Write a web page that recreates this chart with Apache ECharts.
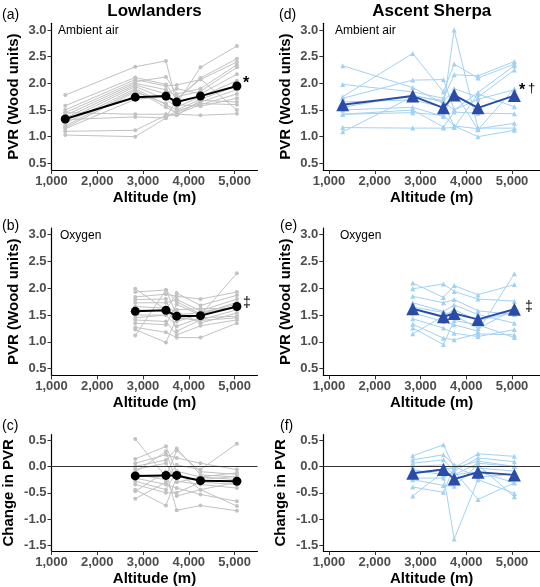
<!DOCTYPE html>
<html><head><meta charset="utf-8">
<script src="https://cdn.jsdelivr.net/npm/echarts@6/dist/echarts.min.js"></script>
<style>html,body{margin:0;padding:0;background:#fff}#c{width:540px;height:587px}</style>
</head><body><div id="c"></div>
<script>
// ---------- DATA ----------
const altitudeAmbient = [1300, 2830, 3500, 3735, 4255, 5050];
const altitudeOxygen  = [2830, 3500, 3735, 4255, 5050];
const xTickValues = [1000, 2000, 3000, 4000, 5000];
const pvrTickValues = [0.5, 1.0, 1.5, 2.0, 2.5, 3.0];
const changeTickValues = [-1.5, -1.0, -0.5, 0.0, 0.5];

// (a) Lowlanders, ambient air
const lowAmbientMean = [1.33, 1.74, 1.76, 1.65, 1.76, 1.95];
const lowAmbientSubjects = [
  [1.78, 2.31, 2.42, 1.62, 2.30, 2.70],
  [1.58, 2.11, 1.98, 1.70, 2.10, 2.46],
  [1.50, 2.07, 1.95, 1.97, 2.07, 2.40],
  [1.45, 2.03, 2.12, 1.80, 1.90, 2.35],
  [1.40, 2.00, 1.88, 1.75, 1.85, 2.30],
  [1.35, 1.97, 1.80, 1.90, 1.80, 2.17],
  [1.30, 1.94, 1.70, 1.55, 1.75, 2.05],
  [1.25, 1.90, 1.60, 1.50, 1.70, 1.95],
  [1.20, 1.87, 1.55, 1.45, 1.65, 1.88],
  [1.17, 1.84, 1.62, 1.42, 1.60, 1.80],
  [1.15, 1.70, 1.75, 1.60, 1.57, 1.72],
  [1.45, 1.42, 1.42, 1.42, 1.40, 1.43],
  [1.32, 1.37, 1.35, 1.48, 1.62, 1.60],
  [1.10, 1.12, 1.40, 1.40, 1.68, 1.65],
  [1.03, 1.00, 1.35, 1.70, 2.08, 1.50]
];
// (b) Lowlanders, oxygen
const lowOxygenMean = [1.57, 1.59, 1.48, 1.49, 1.66];
const lowOxygenSubjects = [
  [1.99, 1.60, 1.91, 1.68, 1.87],
  [1.93, 1.97, 1.75, 1.52, 1.74],
  [1.84, 1.89, 1.85, 1.80, 1.93],
  [1.79, 1.80, 1.20, 1.41, 1.60],
  [1.73, 1.73, 1.79, 1.58, 1.80],
  [1.66, 1.63, 1.57, 1.35, 1.54],
  [1.60, 1.57, 1.38, 1.52, 1.66],
  [1.50, 1.50, 1.29, 1.45, 1.48],
  [1.41, 1.38, 1.13, 1.30, 1.41],
  [1.35, 1.32, 1.70, 1.50, 2.28],
  [1.27, 1.18, 1.08, 1.08, 1.35],
  [1.23, 0.99, 1.45, 1.40, 1.45],
  [1.12, 1.97, 1.50, 1.55, 1.70],
  [1.45, 1.50, 1.60, 1.62, 1.62]
];
// (c) Lowlanders, change in PVR
const lowChangeMean = [-0.18, -0.17, -0.17, -0.27, -0.28];
const lowChangeSubjects = [
  [0.52, -0.20, 0.30, -0.10, -0.15],
  [0.14, 0.38, -0.10, -0.44, -0.75],
  [0.06, 0.22, 0.16, 0.06, -0.06],
  [0.00, 0.12, 0.34, -0.16, -0.20],
  [-0.06, 0.06, -0.28, -0.34, -0.41],
  [-0.15, -0.25, 0.03, -0.06, 0.43],
  [-0.22, -0.34, -0.41, -0.53, -0.66],
  [-0.28, -0.44, -0.09, -0.20, -0.12],
  [-0.34, -0.50, -0.50, -0.30, -0.34],
  [-0.44, -0.74, -0.20, -0.25, -0.19],
  [-0.47, -0.10, -0.83, -0.74, -0.84],
  [-0.61, -0.30, -0.56, -0.44, -0.30],
  [-0.10, 0.28, -0.30, -0.20, -0.25]
];
// (d) Ascent Sherpa, ambient air
const sherpaAmbientMean = [1.60, 1.76, 1.54, 1.78, 1.54, 1.77];
const sherpaAmbientSubjects = [
  [2.33, 1.92, 1.62, 1.20, 1.15, 1.25],
  [1.98, 1.84, 1.72, 2.16, 2.14, 2.41],
  [1.75, 2.56, 1.84, 2.36, 2.10, 2.36],
  [1.72, 2.06, 2.07, 1.50, 1.83, 2.33],
  [1.65, 1.69, 1.55, 3.00, 1.16, 1.16],
  [1.50, 1.55, 1.38, 1.90, 1.74, 2.25],
  [1.42, 1.50, 1.18, 1.46, 1.44, 1.43],
  [1.42, 1.45, 1.40, 1.20, 1.00, 1.12],
  [1.17, 1.16, 1.16, 1.17, 1.80, 1.56],
  [1.09, 1.75, 1.68, 1.85, 1.13, 1.90],
  [1.55, 1.78, 1.65, 1.50, 1.70, 1.88]
];
// (e) Ascent Sherpa, oxygen
const sherpaOxygenMean = [1.62, 1.47, 1.53, 1.42, 1.61];
const sherpaOxygenSubjects = [
  [2.10, 1.83, 2.05, 1.88, 2.07],
  [1.99, 2.08, 1.94, 1.80, 1.76],
  [1.85, 1.73, 1.79, 1.58, 1.51],
  [1.73, 1.57, 1.69, 1.51, 1.35],
  [1.54, 1.38, 1.32, 1.20, 2.27],
  [1.43, 1.26, 1.16, 1.10, 1.23],
  [1.33, 1.07, 1.04, 1.15, 1.13],
  [1.26, 0.95, 1.40, 1.32, 1.08],
  [1.15, 1.48, 1.60, 1.40, 1.55],
  [1.65, 1.55, 1.50, 1.25, 1.60]
];
// (f) Ascent Sherpa, change in PVR
const sherpaChangeMean = [-0.13, -0.06, -0.24, -0.11, -0.16];
const sherpaChangeSubjects = [
  [0.20, 0.41, -0.03, 0.24, 0.19],
  [0.125, 0.22, 0.03, -0.03, -0.09],
  [0.06, 0.125, -0.09, 0.16, 0.09],
  [0.00, 0.03, -0.16, 0.06, 0.00],
  [-0.06, -0.16, -1.375, -0.25, -0.51],
  [-0.22, -0.22, -0.09, -0.625, -0.31],
  [-0.25, -0.36, -0.375, 0.03, -0.575],
  [-0.39, -0.49, 0.00, -0.20, -0.15],
  [-0.56, -0.10, -0.16, -0.10, -0.31],
  [-0.12, -0.05, -0.03, 0.10, 0.00]
];

// ---------- LAYOUT / STYLE ----------
const FONT = '"Liberation Sans", Arial, sans-serif';
const GREY = '#c2c2c2', BLACK = '#000000', LIGHTBLUE = '#a2d2f2', DARKBLUE = '#2b4ba8';
const colLayout = [
  { left: 51.5, width: 206, xmin: 1000, xmax: 5500 },
  { left: 323.3, width: 216.7, xmin: 875, xmax: 5610 }
];
const rowLayout = [
  { top: 23.3, height: 146.7, ymin: 0.375, ymax: 3.125, ticks: pvrTickValues, name: 'PVR (Wood units)' },
  { top: 228, height: 147.4, ymin: 0.375, ymax: 3.125, ticks: pvrTickValues, name: 'PVR (Wood units)' },
  { top: 434.7, height: 117.3, ymin: -1.6, ymax: 0.6, ticks: changeTickValues, name: 'Change in PVR' }
];

const grids = [], xAxes = [], yAxes = [], series = [];
const panels = [
  { col: 0, row: 0, xs: altitudeAmbient, subj: lowAmbientSubjects, mean: lowAmbientMean, light: GREY, dark: BLACK, sym: 'circle' },
  { col: 0, row: 1, xs: altitudeOxygen, subj: lowOxygenSubjects, mean: lowOxygenMean, light: GREY, dark: BLACK, sym: 'circle' },
  { col: 0, row: 2, xs: altitudeOxygen, subj: lowChangeSubjects, mean: lowChangeMean, light: GREY, dark: BLACK, sym: 'circle' },
  { col: 1, row: 0, xs: altitudeAmbient, subj: sherpaAmbientSubjects, mean: sherpaAmbientMean, light: LIGHTBLUE, dark: DARKBLUE, sym: 'triangle' },
  { col: 1, row: 1, xs: altitudeOxygen, subj: sherpaOxygenSubjects, mean: sherpaOxygenMean, light: LIGHTBLUE, dark: DARKBLUE, sym: 'triangle' },
  { col: 1, row: 2, xs: altitudeOxygen, subj: sherpaChangeSubjects, mean: sherpaChangeMean, light: LIGHTBLUE, dark: DARKBLUE, sym: 'triangle' }
];

panels.forEach((p, i) => {
  const c = colLayout[p.col], r = rowLayout[p.row];
  grids.push({ left: c.left, top: r.top, width: c.width, height: r.height });
  xAxes.push({
    type: 'value', gridIndex: i, min: c.xmin, max: c.xmax,
    axisLine: { show: true, onZero: false, lineStyle: { color: '#000', width: 1.2 } },
    axisTick: { show: true, length: 4, customValues: xTickValues, lineStyle: { color: '#333' } },
    axisLabel: { customValues: xTickValues, margin: 5, color: '#4d4d4d', fontWeight: 'bold', fontSize: 13, fontFamily: FONT,
      formatter: v => v.toLocaleString('en-US') },
    splitLine: { show: false },
    name: 'Altitude (m)', nameLocation: 'middle', nameGap: 20,
    nameTextStyle: { color: '#000', fontWeight: 'bold', fontSize: 15, fontFamily: FONT }
  });
  yAxes.push({
    type: 'value', gridIndex: i, min: r.ymin, max: r.ymax,
    axisLine: { show: true, onZero: false, lineStyle: { color: '#000', width: 1.2 } },
    axisTick: { show: true, length: 4, customValues: r.ticks, lineStyle: { color: '#333' } },
    axisLabel: { customValues: r.ticks, margin: 5, color: '#4d4d4d', fontWeight: 'bold', fontSize: 13, fontFamily: FONT,
      formatter: v => v.toFixed(1) },
    splitLine: { show: false },
    name: r.name, nameLocation: 'middle', nameGap: p.row === 2 ? 35 : 30,
    nameTextStyle: { color: '#000', fontWeight: 'bold', fontSize: 15, fontFamily: FONT }
  });
  const smallSize = p.sym === 'circle' ? 4 : 5;
  p.subj.forEach((vals, k) => {
    const s = {
      type: 'line', xAxisIndex: i, yAxisIndex: i, silent: true, animation: false,
      data: vals.map((v, j) => [p.xs[j], v]),
      symbol: p.sym, symbolSize: smallSize, showSymbol: true,
      lineStyle: { color: p.light, width: 1 }, itemStyle: { color: p.light }, z: 2
    };
    if (k === 0 && p.row === 2) {
      s.markLine = { silent: true, symbol: 'none', label: { show: false },
        lineStyle: { color: '#333', width: 1, type: 'solid' }, data: [{ yAxis: 0 }] };
    }
    series.push(s);
  });
  series.push({
    type: 'line', xAxisIndex: i, yAxisIndex: i, silent: true, animation: false,
    data: p.mean.map((v, j) => [p.xs[j], v]),
    symbol: p.sym, symbolSize: p.sym === 'circle' ? 9 : 13,
    lineStyle: { color: p.dark, width: 2 }, itemStyle: { color: p.dark }, z: 5
  });
});

function txt(x, y, text, size, weight, align, extra) {
  return Object.assign({ type: 'text', x: x, y: y,
    style: { text: text, fontSize: size, fontWeight: weight || 'normal', fontFamily: FONT, fill: '#000',
      align: align || 'left', verticalAlign: 'middle' } }, extra || {});
}
const graphics = [
  txt(154.5, 11, 'Lowlanders', 17, 'bold', 'center'),
  txt(431.7, 11, 'Ascent Sherpa', 17, 'bold', 'center'),
  txt(2, 15, '(a)', 14), txt(2, 226, '(b)', 14), txt(2, 426, '(c)', 14),
  txt(279, 15, '(d)', 14), txt(280, 226, '(e)', 14), txt(280, 426, '(f)', 14),
  txt(58, 31, 'Ambient air', 12), txt(335, 31, 'Ambient air', 12),
  txt(60, 236, 'Oxygen', 12), txt(340, 236, 'Oxygen', 12),
  txt(243, 84, '*', 16, 'bold'), txt(519, 91, '*', 16, 'bold'), txt(528, 88, '†', 13, 'normal'),
  txt(243, 303, '‡', 14, 'normal'), txt(525, 307, '‡', 14, 'normal')
];

const chart = echarts.init(document.getElementById('c'), null, { renderer: 'canvas' });
chart.setOption({
  animation: false,
  backgroundColor: '#ffffff',
  grid: grids, xAxis: xAxes, yAxis: yAxes, series: series,
  graphic: graphics
});
</script></body></html>
